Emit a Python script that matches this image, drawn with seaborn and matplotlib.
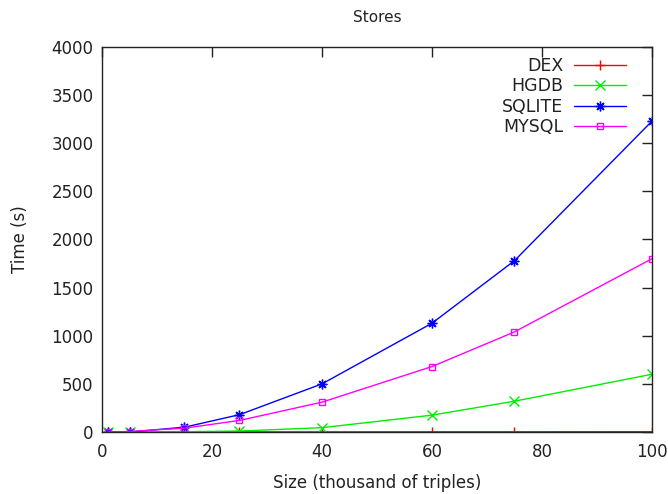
import pandas as pd
import numpy as np
import matplotlib.pyplot as plt
import seaborn as sns

# =====================================================
# DATA
# =====================================================

sizes = [1, 5, 15, 25, 40, 60, 75, 100]

dex_time = [0, 0, 1, 1, 1, 2, 2, 3]
hgdb_time = [0, 0, 3, 10, 45, 175, 320, 600]
sqlite_time = [0, 0, 50, 180, 500, 1130, 1780, 3230]
mysql_time = [0, 5, 40, 120, 310, 680, 1040, 1800]

stores = ["DEX", "HGDB", "SQLITE", "MYSQL"]

df = pd.DataFrame({
    "Size": sizes * 4,
    "Time": dex_time + hgdb_time + sqlite_time + mysql_time,
    "Store": np.repeat(stores, len(sizes)),
})

colors = {"DEX": "#ff0000", "HGDB": "#00ee00", "SQLITE": "#0000ff", "MYSQL": "#ff00ff"}
# gnuplot-like point types: plus, cross, star (plus + cross), open square
markers = {"DEX": "+", "HGDB": "x", "SQLITE": (8, 2, 0), "MYSQL": "s"}
msizes = {"DEX": 7, "HGDB": 6.5, "SQLITE": 7, "MYSQL": 5}

# =====================================================
# PLOT
# =====================================================

sns.set_style("white")
plt.rcParams["font.family"] = ["DejaVu Sans"]
plt.rcParams["text.color"] = "#222222"

fig = plt.figure(figsize=(6.68, 4.94), dpi=100)
ax = fig.add_axes([0.1527, 0.1255, 0.8233, 0.7794])

for store in stores:
    sns.lineplot(
        data=df[df["Store"] == store],
        x="Size",
        y="Time",
        color=colors[store],
        marker=markers[store],
        label=store,
        linewidth=1,
        markersize=msizes[store],
        markerfacecolor="none",
        markeredgecolor=colors[store],
        markeredgewidth=1,
        ax=ax,
    )

ax.set_xlim(0, 100)
ax.set_ylim(0, 4000)
ax.set_xticks(range(0, 101, 20))
ax.set_yticks(range(0, 4001, 500))

for side in ax.spines.values():
    side.set_color("#222222")
    side.set_linewidth(1)

ax.tick_params(direction="in", length=7, width=1, top=True, right=True,
               labelsize=12, colors="#222222", pad=6)
ax.tick_params(axis="x", pad=8)

ax.set_xlabel("Size (thousand of triples)", fontsize=12, labelpad=9, color="#222222")
ax.set_ylabel("Time (s)", fontsize=12, labelpad=16, color="#222222")
ax.set_title("Stores", fontsize=11, pad=18, color="#222222")

handles, labels = ax.get_legend_handles_labels()
ax.legend(
    handles,
    labels,
    loc="upper right",
    bbox_to_anchor=(0.953, 0.975),
    frameon=False,
    markerfirst=False,
    handlelength=3.0,
    handletextpad=0.6,
    fontsize=12.5,
    labelspacing=0.15,
    borderaxespad=0,
    borderpad=0,
)

plt.savefig("out.png", dpi=100)
plt.close()
